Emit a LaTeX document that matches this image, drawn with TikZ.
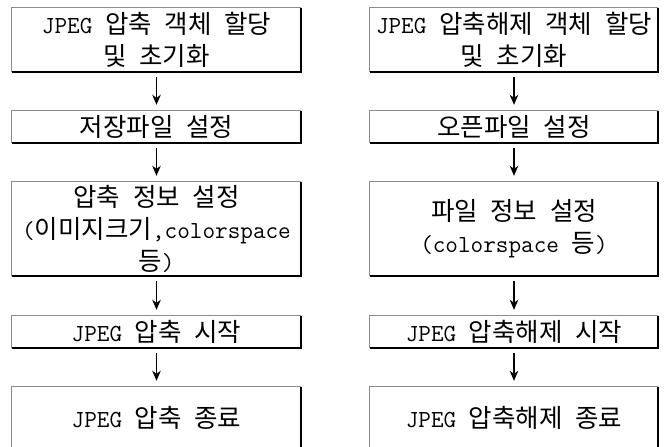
\documentclass[tikz,border=0pt]{standalone}
\usepackage{fontspec}
\usetikzlibrary{arrows.meta}
\newfontfamily\krfont{Noto Sans CJK KR}
\newcommand\K[1]{{\krfont\fontsize{25.5}{32}\selectfont #1}}
\begin{document}
\begin{tikzpicture}[x=1pt,y=-1pt,
  flowbox/.style={draw=none,inner sep=0pt,align=center,
    font=\ttfamily\fontsize{24.5}{32}\selectfont},
  edgegray/.style={draw=black!45,line width=1pt},
  edgedark/.style={draw=black,line width=2pt},
  flowarrow/.style={draw=black,line width=1.4pt,
    -{Stealth[length=10pt,width=8.5pt,inset=3pt]},shorten <=5pt,shorten >=6pt}]
\useasboundingbox (0,0) rectangle (667,447);
\fill[white] (0,0) rectangle (667,447);
% left column
\node[flowbox,minimum width=289pt,minimum height=64pt] (l1) at (156.5,40) {JPEG \K{압축} \K{객체} \K{할당}\\\K{및} \K{초기화}};
\node[flowbox,minimum width=289pt,minimum height=32pt] (l2) at (156.5,127) {\K{저장파일} \K{설정}};
\node[flowbox,minimum width=289pt,minimum height=94pt] (l3) at (156.5,229) {\K{압축} \K{정보} \K{설정}\\(\K{이미지크기},colorspace\\\K{등})};
\node[flowbox,minimum width=289pt,minimum height=32pt] (l4) at (156.5,332) {JPEG \K{압축} \K{시작}};
\node[flowbox,minimum width=289pt,minimum height=62pt] (l5) at (156.5,418) {JPEG \K{압축} \K{종료}};
% right column
\node[flowbox,minimum width=288pt,minimum height=64pt] (r1) at (514,40) {JPEG \K{압축해제} \K{객체} \K{할당}\\\K{및} \K{초기화}};
\node[flowbox,minimum width=288pt,minimum height=32pt] (r2) at (514,127) {\K{오픈파일} \K{설정}};
\node[flowbox,minimum width=288pt,minimum height=94pt] (r3) at (514,229) {\K{파일} \K{정보} \K{설정}\\(colorspace \K{등})};
\node[flowbox,minimum width=288pt,minimum height=32pt] (r4) at (514,332) {JPEG \K{압축해제} \K{시작}};
\node[flowbox,minimum width=288pt,minimum height=62pt] (r5) at (514,418) {JPEG \K{압축해제} \K{종료}};
% box edges
\foreach \n in {l1,l2,l3,l4,l5,r1,r2,r3,r4,r5}{
  \draw[edgegray] (\n.south west) -- (\n.north west) -- (\n.north east);
  \draw[edgedark] (\n.north east) -- (\n.south east) -- (\n.south west);
}
% arrows
\foreach \a/\b in {l1/l2,l2/l3,l3/l4,l4/l5,r1/r2,r2/r3,r3/r4,r4/r5}{
  \draw[flowarrow] (\a) -- (\b);
}
\end{tikzpicture}
\end{document}
